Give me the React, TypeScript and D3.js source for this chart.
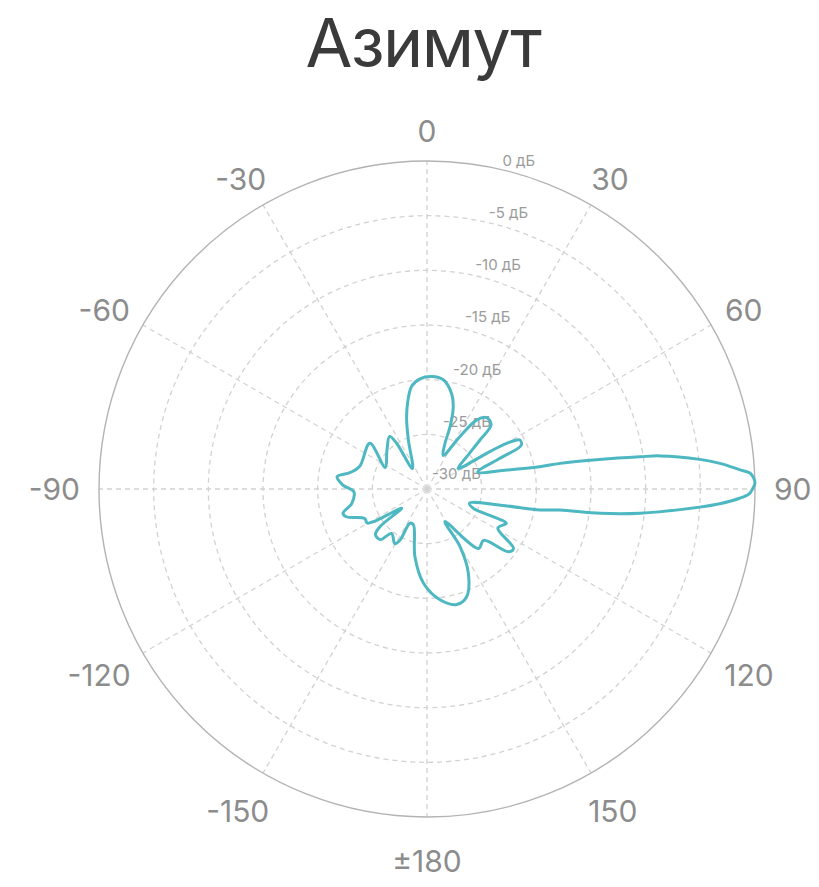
import React, { useEffect, useRef } from "react";
import * as d3 from "d3";

// chart data
const titleText = "Азимут";
const angleTicks = [0, 30, 60, 90, 120, 150, 180, -150, -120, -90, -60, -30];
const angleTickLabels = ["0", "30", "60", "90", "120", "150", "±180", "-150", "-120", "-90", "-60", "-30"];
const dbTicks = [0, -5, -10, -15, -20, -25, -30];
const dbTickLabels = ["0 дБ", "-5 дБ", "-10 дБ", "-15 дБ", "-20 дБ", "-25 дБ", "-30 дБ"];

// traced pattern: azimuth (deg, clockwise from 0) and level (dB)
const patternAngle = [
  2.4, 8.5, 14.5, 17.7, 20.3, 21.5, 25.6, 32.2, 35.8, 39.8, 44.9, 47.2, 50.9, 56.5,
  59.1, 60.2, 62.2, 65.1, 67.2, 71.5, 76.6, 78.8, 79.1, 80.3, 81.4, 81.9, 83.8, 85.0,
  86.5, 87.2, 88.1, 89.0, 89.9, 90.8, 91.7, 92.9, 93.8, 96.5, 98.0, 99.0, 100.5, 102,
  108.4, 112.6, 112.7, 113.3, 118.9, 124.5, 127.6, 132.2, 139.1, 151.2, 150.2, 153.9,
  159.8, 165.6, 173.3, 182.2, 190.1, 200.8, 206.4, 207.9, 210.5, 218.6, 222.7, 228.5,
  231.3, 232.7, 238.7, 240.4, 244.7, 251, 253.8, 259.2, 267.9, 272.7, 277.8, 282, 288.4,
  308.7, 297.3, 314.1, 324.6, 326.4, 324.6, 339.2, 343.6, 347.1, 351.5, 356.4,
];
const patternDb = [
  -19.7, -19.9, -21.0, -22.1, -23.9, -25.5, -26.6, -24.3, -22.2, -21.5, -21.7, -23.4, -25.3, -26.6,
  -23.6, -21.6, -20.4, -20.5, -22.8, -25.1, -22.5, -19.5, -17.6, -14.0, -10.3, -8.5, -4.9, -3.1,
  -1.3, -0.4, -0.1, 0, -0.2, -0.5, -1.4, -3.2, -5.0, -10.4, -14.0, -17.7, -19.5, -22.5,
  -25.9, -25.4, -23.4, -22.1, -22.6, -20.4, -20.6, -23.0, -22.8, -26.6, -23.9, -21.4,
  -19.5, -19.1, -19.8, -21.4, -23.7, -26.5, -26.5, -24.7, -24.2, -24.8, -23.7, -23.7,
  -24.5, -27.1, -24.2, -23.7, -23.7, -22.2, -22.0, -23.0, -23.3, -22.3, -21.7, -22.8, -23.5,
  -23.3, -25.7, -24.9, -24.1, -25.0, -27.7, -25.2, -23.4, -22.0, -20.5, -19.9,
];

const width = 819;
const height = 887;
const cx = 427;
const cy = 489;
const outerR = 328;
const fontFamily = "Inter, 'Noto Sans', sans-serif";

export default function App() {
  const svgRef = useRef<SVGSVGElement>(null);

  useEffect(() => {
    if (!svgRef.current) return;
    const svg = d3.select(svgRef.current);
    svg.selectAll("*").remove();

    const r = d3.scaleLinear().domain([-30, 0]).range([0, outerR]);
    const toRad = (deg: number) => (deg * Math.PI) / 180;

    const g = svg.append("g").attr("transform", `translate(${cx},${cy})`);

    // dashed rings
    g.selectAll("circle.ring")
      .data(dbTicks.filter(d => d > -30 && d < 0))
      .join("circle")
      .attr("class", "ring")
      .attr("r", d => r(d))
      .attr("fill", "none")
      .attr("stroke", "#d2d2d2")
      .attr("stroke-width", 1.3)
      .attr("stroke-dasharray", "5,4");

    // spokes
    g.selectAll("line.spoke")
      .data(angleTicks)
      .join("line")
      .attr("class", "spoke")
      .attr("x1", 0)
      .attr("y1", 0)
      .attr("x2", d => outerR * Math.sin(toRad(d)))
      .attr("y2", d => -outerR * Math.cos(toRad(d)))
      .attr("stroke", "#d2d2d2")
      .attr("stroke-width", 1.3)
      .attr("stroke-dasharray", "5,4");

    // outer circle
    g.append("circle")
      .attr("r", r(0))
      .attr("fill", "none")
      .attr("stroke", "#b3b3b3")
      .attr("stroke-width", 1.4);

    // radial labels, set along a slanted line
    g.selectAll("text.db")
      .data(dbTicks)
      .join("text")
      .attr("class", "db")
      .attr("x", d => 29.5 + r(d) * 0.19)
      .attr("y", d => -15 - r(d) * 0.955 + 5)
      .attr("text-anchor", "middle")
      .attr("font-family", fontFamily)
      .attr("font-size", 15)
      .attr("fill", "#9b9b9b")
      .text((d, i) => dbTickLabels[i]);

    // pattern
    const line = d3.lineRadial<number>()
      .angle(i => toRad(patternAngle[i]))
      .radius(i => r(patternDb[i]))
      .curve(d3.curveCatmullRomClosed.alpha(0.5));

    g.append("path")
      .attr("d", line(d3.range(patternAngle.length)))
      .attr("fill", "none")
      .attr("stroke", "#4db8c2")
      .attr("stroke-width", 3)
      .attr("stroke-linejoin", "round");

    // angular labels
    const fs = 30;
    const gap = 19;
    angleTicks.forEach((a, i) => {
      const t = g.append("text")
        .attr("font-family", fontFamily)
        .attr("font-size", fs)
        .attr("fill", "#8c8c8c")
        .attr("text-anchor", "middle")
        .text(angleTickLabels[i]);
      const w = (t.node() as SVGTextElement).getComputedTextLength();
      const s = Math.sin(toRad(a));
      const c = Math.cos(toRad(a));
      const hh = 11;
      const x = (outerR + gap) * s + (w / 2) * s;
      const yc = -(outerR + gap) * c - hh * c + 14 * Math.max(0, -c);
      t.attr("x", x).attr("y", yc + fs * 0.36);
    });

    // title
    svg.append("text")
      .attr("x", 423)
      .attr("y", 67)
      .attr("text-anchor", "middle")
      .attr("font-family", fontFamily)
      .attr("font-size", 68)
      .attr("letter-spacing", -1.5)
      .attr("fill", "#3a3a3a")
      .text(titleText);
  }, []);

  return (
    <svg
      ref={svgRef}
      width={width}
      height={height}
      style={{ position: "absolute", left: 0, top: 0, background: "#fff" }}
    />
  );
}
